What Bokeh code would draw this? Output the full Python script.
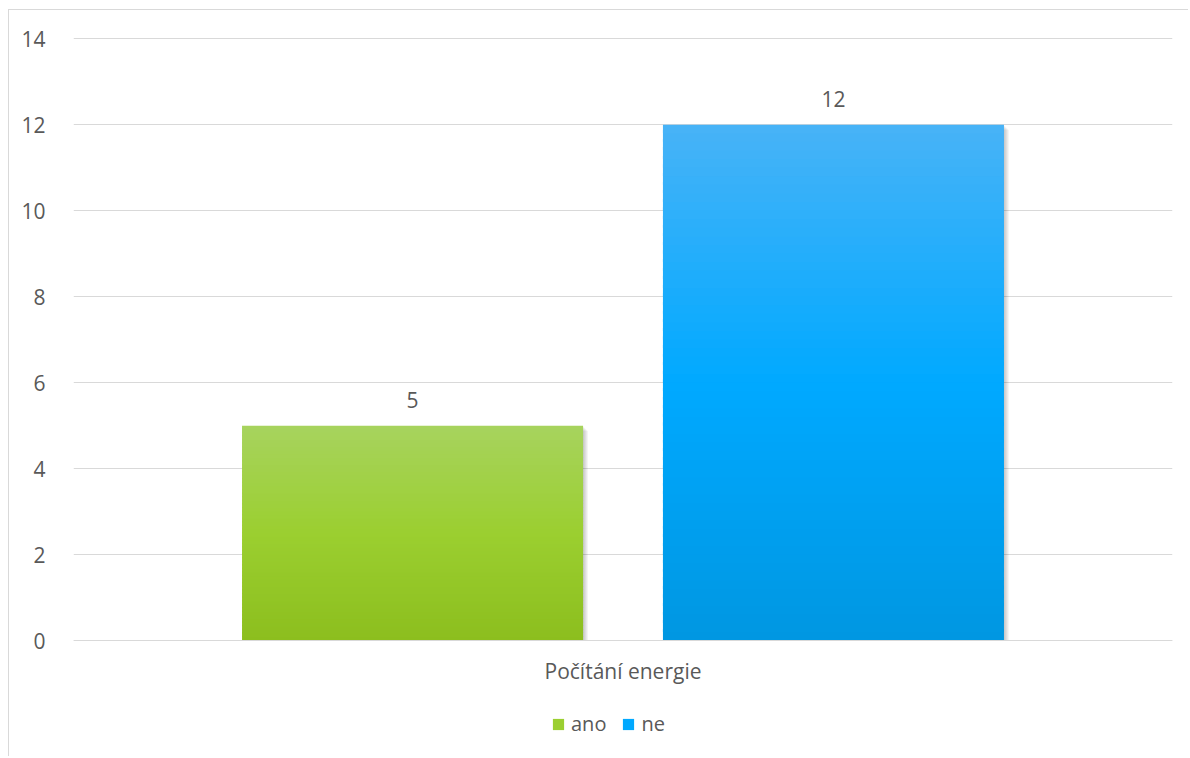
import numpy as np
from bokeh.plotting import figure
from bokeh.models import (ColumnDataSource, FactorRange, Range1d, FixedTicker,
                          Legend, LegendItem)
from bokeh.transform import dodge
from bokeh.core.properties import value
from bokeh.embed import file_html
from bokeh.resources import INLINE

# ---- data ----
category = ["Počítání energie"]
series = ["ano", "ne"]
values = [5, 12]
y_ticks = [0, 2, 4, 6, 8, 10, 12, 14]

# ---- style ----
colors_top = ["#a7d35e", "#48b3f7"]
colors_mid = ["#9bcf30", "#00a9ff"]
colors_bot = ["#8cbe1e", "#0097e2"]
BAR_W = 0.3103
OFFSETS = [-0.1915, 0.1915]
FRAME_W_PX = 1099.0
Y_PX_PER_UNIT = 43.0
N_SLICES = 60
TEXT_COLOR = "#595959"
FONT = "Open Sans"


def hex2rgb(h):
    h = h.lstrip("#")
    return np.array([int(h[i:i + 2], 16) for i in (0, 2, 4)], dtype=float)


def rgb2hex(c):
    return "#%02x%02x%02x" % tuple(int(round(v)) for v in c)


def grad(t, top, mid, bot):
    # t: 0 at bottom, 1 at top
    a, b, c = hex2rgb(bot), hex2rgb(mid), hex2rgb(top)
    if t < 0.5:
        return rgb2hex(a + (b - a) * (t / 0.5))
    return rgb2hex(b + (c - b) * ((t - 0.5) / 0.5))


# the frame reaches down to the bottom edge so that the legend lies inside it;
# the category axis is pinned at y = 0
p = figure(x_range=FactorRange(factors=category, range_padding=0),
           y_range=Range1d(-2.717, 14.05),
           width=1180, height=747,
           output_backend="svg", toolbar_location=None,
           min_border_left=64, min_border_right=17,
           min_border_top=26, min_border_bottom=0)
p.margin = (9, 0, 0, 8)
p.styles = {"border-left": "1px solid #d9d9d9", "border-top": "1px solid #d9d9d9"}
p.outline_line_color = None
p.background_fill_color = "white"
p.border_fill_color = "white"

# grid
p.xgrid.grid_line_color = None
p.ygrid.grid_line_color = "#d9d9d9"
p.ygrid.grid_line_width = 1.2

# axes
p.yaxis.ticker = FixedTicker(ticks=y_ticks)
p.yaxis.axis_line_color = None
p.yaxis.major_tick_line_color = None
p.yaxis.minor_tick_line_color = None
p.yaxis.major_label_standoff = 22
p.yaxis.major_label_text_font = FONT
p.yaxis.major_label_text_font_size = "21px"
p.yaxis.major_label_text_color = TEXT_COLOR

p.xaxis.fixed_location = 0
p.xaxis.axis_line_color = "#d9d9d9"
p.xaxis.axis_line_width = 1.2
p.xaxis.major_tick_line_color = None
p.xaxis.minor_tick_line_color = None
p.xaxis.major_label_standoff = 10
p.xaxis.major_label_text_font = FONT
p.xaxis.major_label_text_font_size = "21px"
p.xaxis.major_label_text_color = TEXT_COLOR

legend_items = []
for s, v, off, ct, cm, cb in zip(series, values, OFFSETS, colors_top, colors_mid, colors_bot):
    # soft shadow to the right
    for k in range(1, 6):
        sh = ColumnDataSource(dict(x=category, top=[v - k / Y_PX_PER_UNIT]))
        p.vbar(x=dodge("x", off + k / FRAME_W_PX, range=p.x_range), top="top", bottom=0,
               width=BAR_W, source=sh, fill_color="black", fill_alpha=0.045,
               line_color=None)
    # gradient bar built from horizontal slices of the bar's value
    bots, tops, cols = [], [], []
    for i in range(N_SLICES):
        b = v * i / N_SLICES
        t = min(v, v * (i + 1.4) / N_SLICES)
        bots.append(b)
        tops.append(t)
        cols.append(grad((i + 0.5) / N_SLICES, ct, cm, cb))
    src = ColumnDataSource(dict(x=category * N_SLICES, bottom=bots, top=tops, color=cols))
    r = p.vbar(x=dodge("x", off, range=p.x_range), bottom="bottom", top="top",
               width=BAR_W, source=src, fill_color="color", line_color=None)
    legend_items.append(LegendItem(label=s, renderers=[r], index=N_SLICES // 2))
    # value label
    lab = ColumnDataSource(dict(x=category, y=[v], t=[str(v)]))
    p.text(x=dodge("x", off, range=p.x_range), y="y", text="t", source=lab,
           text_align="center", text_baseline="alphabetic", y_offset=-26,
           text_font=value(FONT), text_font_size="21px", text_color=TEXT_COLOR)

legend = Legend(items=legend_items, orientation="horizontal", location=(478, 20),
                glyph_width=14, glyph_height=14, label_standoff=6, spacing=15,
                padding=0, margin=0, border_line_color=None, background_fill_alpha=0,
                label_text_font=FONT, label_text_font_size="20px",
                label_text_color=TEXT_COLOR, label_height=20)
p.add_layout(legend, "center")

open("out.html", "w").write(file_html(p, INLINE))
